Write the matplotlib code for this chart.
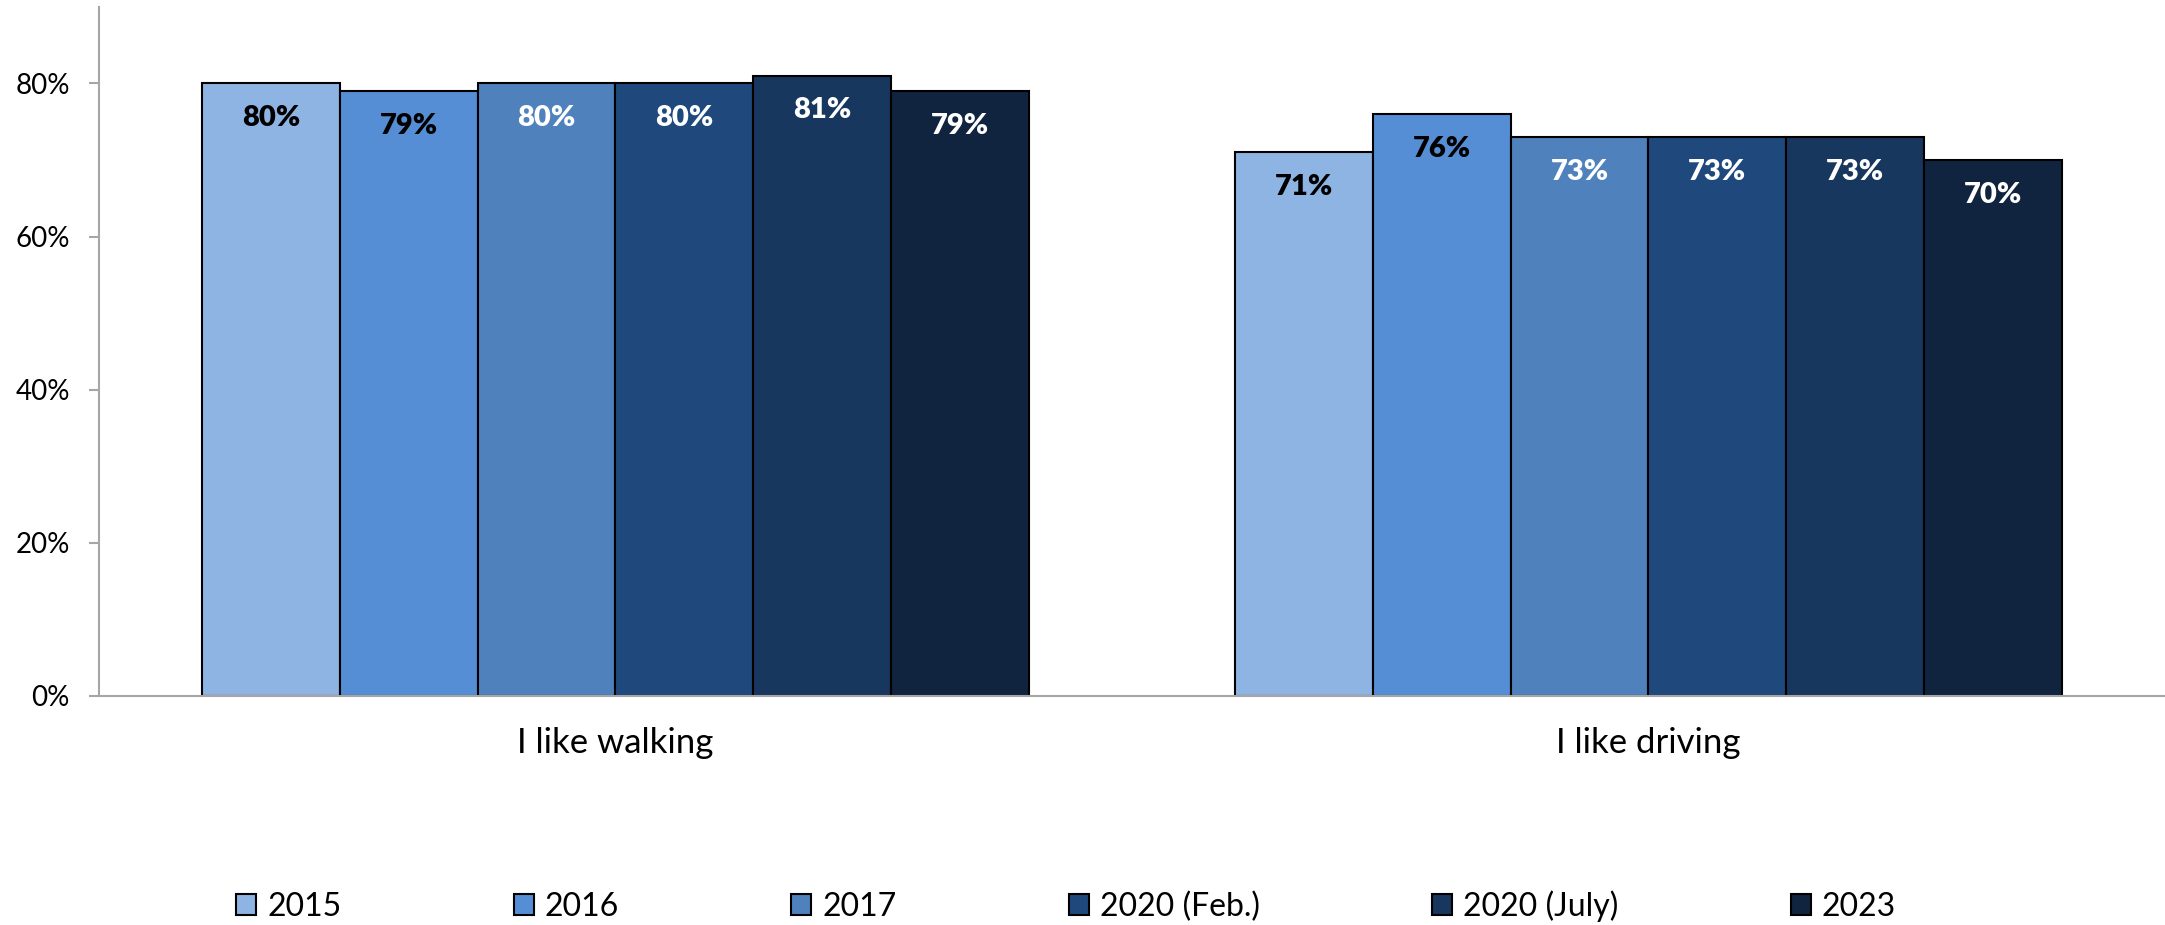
import numpy as np
import matplotlib
matplotlib.use("Agg")
from matplotlib import pyplot as plt
from matplotlib.ticker import PercentFormatter

# data
categories = ["I like walking", "I like driving"]
years = ["2015", "2016", "2017", "2020 (Feb.)", "2020 (July)", "2023"]
walking = [80, 79, 80, 80, 81, 79]
driving = [71, 76, 73, 73, 73, 70]
colors = ["#8EB4E3", "#558ED5", "#4F81BD", "#1F497D", "#17375E", "#10243F"]
label_colors = ["black", "black", "white", "white", "white", "white"]

plt.rcParams["font.family"] = ["Lato", "DejaVu Sans"]

fig = plt.figure(figsize=(21.65, 9.25), dpi=100)
ax = fig.add_axes([0.0457, 0.2476, 0.9543, 0.745])

x = np.arange(len(categories))
width = 0.8 / len(years)
for i, yr in enumerate(years):
    vals = [walking[i], driving[i]]
    pos = x - 0.4 + width * (i + 0.5)
    bars = ax.bar(pos, vals, width, color=colors[i], edgecolor="black",
                  linewidth=1.5, label=yr)
    for b, v in zip(bars, vals):
        ax.annotate(f"{v}%", (b.get_x() + b.get_width() / 2, v),
                    xytext=(0, -25), textcoords="offset points",
                    ha="center", va="center", fontsize=21, fontweight="heavy",
                    color=label_colors[i])

ax.set_xlim(-0.5, 1.5)
ax.set_ylim(0, 90)
ax.set_yticks([0, 20, 40, 60, 80])
ax.yaxis.set_major_formatter(PercentFormatter(decimals=0))
ax.set_xticks(x)
ax.set_xticklabels(categories, fontsize=25)
ax.tick_params(axis="x", length=0, pad=22)
ax.tick_params(axis="y", labelsize=20, length=7, width=1.5, color="#a6a6a6", pad=14)

for s in ["top", "right"]:
    ax.spines[s].set_visible(False)
for s in ["left", "bottom"]:
    ax.spines[s].set_color("#a6a6a6")
    ax.spines[s].set_linewidth(1.5)

fig.legend(loc="center", bbox_to_anchor=(0.4924, 0.0205), ncol=6, frameon=False,
           fontsize=23, handlelength=0.625, handleheight=0.625,
           handletextpad=0.34, columnspacing=5.4)

plt.savefig("out.png", dpi=100)
